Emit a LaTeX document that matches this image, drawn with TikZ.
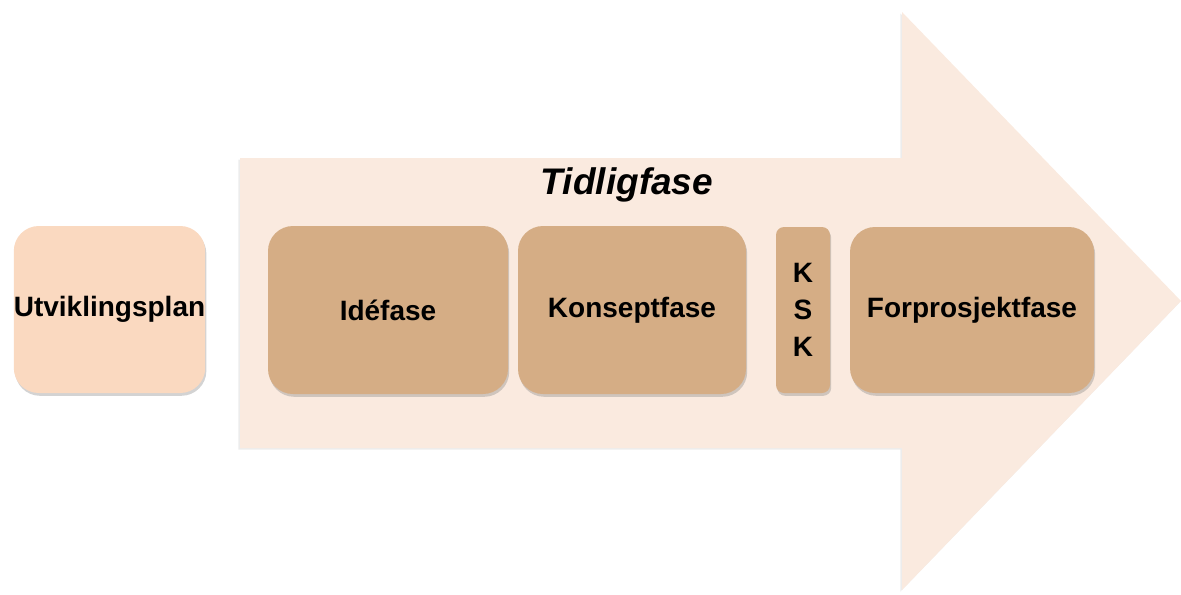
\documentclass[tikz,border=0pt]{standalone}
\usepackage{fontspec}
\setmainfont{Liberation Sans}
\usetikzlibrary{shadows}

\definecolor{arrowfill}{HTML}{FAEADF}
\definecolor{planfill}{HTML}{FAD9C0}
\definecolor{phasefill}{HTML}{D5AD85}

\tikzset{
  phase/.style={rounded corners=12.5pt, fill=phasefill, inner sep=0pt,
    font=\bfseries\fontsize{14}{18.5}\selectfont, align=center,
    drop shadow={shadow xshift=0.6pt, shadow yshift=-1.4pt, opacity=0.35}},
}

\begin{document}
\begin{tikzpicture}[x=0.5pt, y=-0.5pt]
  \useasboundingbox (0,0) rectangle (1181,594);
  % big arrow
  \fill[arrowfill, drop shadow={shadow xshift=-0.8pt, shadow yshift=-0.8pt, opacity=0.15}]
    (240,158) -- (902,158) -- (902,12) -- (1181,301) -- (902,590) -- (902,448)
    -- (240,448) -- cycle;
  \node[font=\bfseries\itshape\fontsize{18.5}{22}\selectfont] (tidlig) at (627,185) {Tidligfase};

  \node[phase, fill=planfill, minimum width=95.5pt, minimum height=83.5pt] (plan) at (109.5,309.5) {Utviklingsplan};
  \node[phase, minimum width=120pt, minimum height=84pt] (ide) at (388,310) {Idéfase};
  \node[phase, minimum width=114pt, minimum height=84pt] (konsept) at (632,310) {Konseptfase};
  \node[phase, rounded corners=4pt, minimum width=27pt, minimum height=83pt] (ksk) at (803,310) {K\\S\\K};
  \node[phase, minimum width=122pt, minimum height=83pt] (forprosjekt) at (972,310) {Forprosjektfase};
\end{tikzpicture}
\end{document}
